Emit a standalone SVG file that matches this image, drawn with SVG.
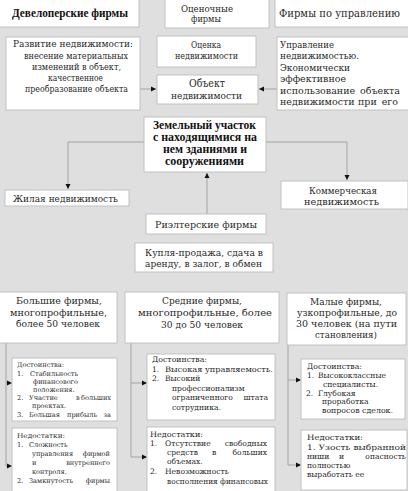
<svg xmlns="http://www.w3.org/2000/svg" width="408" height="491" viewBox="0 0 408 491">
<defs>
<style>
.bx{fill:#fff;stroke:#c2c2c2;stroke-width:1}
.t{font-family:"DejaVu Serif","Liberation Serif",serif;fill:#2a2a2a}
.b{font-family:"Liberation Serif","DejaVu Serif",serif;font-weight:bold;fill:#111}
.m{font-size:9.5px}
.h{font-size:10px}
.s{font-size:7.6px}
.xs{font-size:6.6px}
.c{fill:none;stroke:#a3a3a3;stroke-width:1}
.mid{text-anchor:middle}
</style>
<marker id="ar" markerUnits="userSpaceOnUse" markerWidth="6" markerHeight="6" refX="5" refY="3" orient="auto">
<path d="M0,0.5 L5,3 L0,5.5 z" fill="#111"/>
</marker>
</defs>
<rect x="0" y="0" width="408" height="491" fill="#dfdfdf"/>

<g id="connectors">
<path class="c" d="M140,89 H156" marker-end="url(#ar)"/>
<path class="c" d="M277,89 H259" marker-end="url(#ar)"/>
<path class="c" d="M144,142 H68 V189" marker-end="url(#ar)"/>
<path class="c" d="M266,142 H347 V180" marker-end="url(#ar)"/>
<path class="c" d="M207,214 V173" marker-end="url(#ar)"/>
<path class="c" d="M6,343 V466 H12" marker-end="url(#ar)"/>
<path class="c" d="M6,383 H12" marker-end="url(#ar)"/>
<path class="c" d="M131,343 V457 H147" marker-end="url(#ar)"/>
<path class="c" d="M131,383 H147" marker-end="url(#ar)"/>
<path class="c" d="M288,345 V465 H301" marker-end="url(#ar)"/>
<path class="c" d="M288,380 H301" marker-end="url(#ar)"/>
</g>

<g id="developers">
<rect class="bx" x="-1" y="-1" width="140" height="28"/>
<text class="b mid" x="70" y="16.5" font-size="11.5" textLength="116" lengthAdjust="spacingAndGlyphs">Девелоперские фирмы</text>
</g>
<g id="appraisers">
<rect class="bx" x="165" y="-1" width="104" height="29"/>
<text class="t m mid" x="207" y="11.5" textLength="52" lengthAdjust="spacingAndGlyphs">Оценочные</text>
<text class="t m mid" x="206" y="22" textLength="30" lengthAdjust="spacingAndGlyphs">фирмы</text>
</g>
<g id="managers">
<rect class="bx" x="275" y="-1" width="134" height="28"/>
<text class="t mid" x="339.5" y="16.5" font-size="10.5" textLength="121" lengthAdjust="spacingAndGlyphs">Фирмы по управлению</text>
</g>

<g id="development">
<rect class="bx" x="6" y="37" width="134" height="73"/>
<text class="t mid" font-size="9" x="73" y="47" textLength="120" lengthAdjust="spacingAndGlyphs">Развитие недвижимости:</text>
<text class="t mid" font-size="9" x="76" y="58.5" textLength="104" lengthAdjust="spacingAndGlyphs">внесение материальных</text>
<text class="t mid" font-size="9" x="76.5" y="69.5" textLength="89" lengthAdjust="spacingAndGlyphs">изменений в объект,</text>
<text class="t mid" font-size="9" x="75.5" y="80.5" textLength="55" lengthAdjust="spacingAndGlyphs">качественное</text>
<text class="t mid" font-size="9" x="76.5" y="91.5" textLength="103" lengthAdjust="spacingAndGlyphs">преобразование объекта</text>
</g>
<g id="appraisal">
<rect class="bx" x="157" y="36" width="99" height="31"/>
<text class="t mid" font-size="9" x="206" y="47.5" textLength="30" lengthAdjust="spacingAndGlyphs">Оценка</text>
<text class="t mid" font-size="9" x="206.5" y="59" textLength="63" lengthAdjust="spacingAndGlyphs">недвижимости</text>
</g>
<g id="object">
<rect class="bx" x="157" y="75" width="101" height="29"/>
<text class="t mid" font-size="11" x="207" y="87" textLength="36" lengthAdjust="spacingAndGlyphs">Объект</text>
<text class="t mid" font-size="10" x="206.5" y="98.5" textLength="71" lengthAdjust="spacingAndGlyphs">недвижимости</text>
</g>
<g id="management">
<rect class="bx" x="277" y="37" width="132" height="73"/>
<text class="t" font-size="9.5" x="280" y="47.5" textLength="54" lengthAdjust="spacingAndGlyphs">Управление</text>
<text class="t" font-size="9.5" x="280" y="59" textLength="79" lengthAdjust="spacingAndGlyphs">недвижимостью.</text>
<text class="t" font-size="9.5" x="280" y="70.5" textLength="70" lengthAdjust="spacingAndGlyphs">Экономически</text>
<text class="t" font-size="9.5" x="280" y="82" textLength="66" lengthAdjust="spacingAndGlyphs">эффективное</text>
<text class="t" font-size="9.5" y="93.5"><tspan x="280">использование</tspan><tspan x="400" text-anchor="end">объекта</tspan></text>
<text class="t" font-size="9.5" y="105"><tspan x="280">недвижимости</tspan><tspan x="358">при</tspan><tspan x="398" text-anchor="end">его</tspan></text>
</g>

<g id="land">
<rect class="bx" x="144" y="117" width="122" height="55"/>
<text class="b mid" font-size="11.5" x="204.5" y="129" textLength="103" lengthAdjust="spacingAndGlyphs">Земельный участок</text>
<text class="b mid" font-size="11.5" x="205" y="141" textLength="104" lengthAdjust="spacingAndGlyphs">с находящимися на</text>
<text class="b mid" font-size="11.5" x="205" y="153" textLength="84" lengthAdjust="spacingAndGlyphs">нем зданиями и</text>
<text class="b mid" font-size="11.5" x="204.5" y="165" textLength="79" lengthAdjust="spacingAndGlyphs">сооружениями</text>
</g>
<g id="residential">
<rect class="bx" x="5" y="190" width="124" height="16"/>
<text class="t m mid" x="65.5" y="201.5" textLength="105" lengthAdjust="spacingAndGlyphs">Жилая недвижимость</text>
</g>
<g id="commercial">
<rect class="bx" x="281" y="181" width="127" height="28"/>
<text class="t m mid" x="343" y="194" textLength="68" lengthAdjust="spacingAndGlyphs">Коммерческая</text>
<text class="t m mid" x="341.5" y="204.5" textLength="75" lengthAdjust="spacingAndGlyphs">недвижимость</text>
</g>
<g id="realtors">
<rect class="bx" x="146" y="214" width="120" height="20"/>
<text class="t m mid" x="206" y="227.5" textLength="102" lengthAdjust="spacingAndGlyphs">Риэлтерские фирмы</text>
</g>
<g id="deals">
<rect class="bx" x="135" y="243" width="138" height="29"/>
<text class="t m mid" x="204" y="256" textLength="118" lengthAdjust="spacingAndGlyphs">Купля-продажа, сдача в</text>
<text class="t m mid" x="203.5" y="266.5" textLength="117" lengthAdjust="spacingAndGlyphs">аренду, в залог, в обмен</text>
</g>

<g id="large">
<rect class="bx" x="-1" y="292" width="118" height="51"/>
<text class="t h mid" x="59" y="304" textLength="86" lengthAdjust="spacingAndGlyphs">Большие фирмы,</text>
<text class="t h mid" x="58.5" y="315.5" textLength="97" lengthAdjust="spacingAndGlyphs">многопрофильные,</text>
<text class="t h mid" x="58" y="327" textLength="84" lengthAdjust="spacingAndGlyphs">более 50 человек</text>
</g>
<g id="large-pros">
<rect class="bx" x="12" y="358" width="105" height="63"/>
<text class="t xs" x="17" y="367" textLength="47" lengthAdjust="spacingAndGlyphs">Достоинства:</text>
<text class="t xs" y="375.5"><tspan x="17">1.</tspan><tspan x="30">Стабильность</tspan></text>
<text class="t xs" x="33" y="383.5">финансового</text>
<text class="t xs" x="33" y="391.5">положения.</text>
<text class="t xs" y="399.5"><tspan x="17">2.</tspan><tspan x="29">Участие</tspan><tspan x="76">в</tspan><tspan x="111" text-anchor="end">больших</tspan></text>
<text class="t xs" x="32" y="408">проектах.</text>
<text class="t xs" y="416.5"><tspan x="17">3.</tspan><tspan x="29">Большая</tspan><tspan x="67">прибыль</tspan><tspan x="111" text-anchor="end">за</tspan></text>
</g>
<g id="large-cons">
<rect class="bx" x="12" y="428" width="105" height="68"/>
<text class="t xs" x="17" y="437.5" textLength="48" lengthAdjust="spacingAndGlyphs">Недостатки:</text>
<text class="t xs" y="446.5"><tspan x="17">1.</tspan><tspan x="29">Сложность</tspan></text>
<text class="t xs" y="455.5"><tspan x="32">управления</tspan><tspan x="110" text-anchor="end">фирмой</tspan></text>
<text class="t xs" y="464.5"><tspan x="32">и</tspan><tspan x="110" text-anchor="end">внутреннего</tspan></text>
<text class="t xs" x="32" y="473.5">контроля.</text>
<text class="t xs" y="482.5"><tspan x="17">2.</tspan><tspan x="29">Замкнутость</tspan><tspan x="110" text-anchor="end">фирмы</tspan></text>
</g>

<g id="medium">
<rect class="bx" x="125" y="292" width="154" height="51"/>
<text class="t h mid" x="202" y="304" textLength="80" lengthAdjust="spacingAndGlyphs">Средние фирмы,</text>
<text class="t h mid" x="205" y="316" textLength="134" lengthAdjust="spacingAndGlyphs">многопрофильные, более</text>
<text class="t h mid" x="202" y="327.5" textLength="82" lengthAdjust="spacingAndGlyphs">30 до 50 человек</text>
</g>
<g id="medium-pros">
<rect class="bx" x="147" y="354" width="128" height="66"/>
<text class="t s" x="152" y="362" textLength="55" lengthAdjust="spacingAndGlyphs">Достоинства:</text>
<text class="t s" y="371.5"><tspan x="152">1.</tspan><tspan x="165" textLength="108" lengthAdjust="spacingAndGlyphs">Высокая управляемость.</tspan></text>
<text class="t s" y="381"><tspan x="152">2.</tspan><tspan x="165">Высокий</tspan></text>
<text class="t s" x="172" y="390.5">профессионализм</text>
<text class="t s" y="400"><tspan x="172">ограниченного</tspan><tspan x="268" text-anchor="end">штата</tspan></text>
<text class="t s" x="172" y="409.5">сотрудника.</text>
</g>
<g id="medium-cons">
<rect class="bx" x="147" y="427" width="128" height="69"/>
<text class="t s" x="150" y="437" textLength="53" lengthAdjust="spacingAndGlyphs">Недостатки:</text>
<text class="t s" y="446"><tspan x="150">1.</tspan><tspan x="165">Отсутствие</tspan><tspan x="267" text-anchor="end">свободных</tspan></text>
<text class="t s" y="455"><tspan x="167">средств</tspan><tspan x="212">в</tspan><tspan x="267" text-anchor="end">больших</tspan></text>
<text class="t s" x="167" y="464">объемах.</text>
<text class="t s" y="474"><tspan x="150">2.</tspan><tspan x="165">Невозможность</tspan></text>
<text class="t s" x="167" y="483.5" textLength="101" lengthAdjust="spacingAndGlyphs">восполнения финансовых</text>
</g>

<g id="small">
<rect class="bx" x="287" y="293" width="119" height="52"/>
<text class="t h mid" x="346" y="305" textLength="72" lengthAdjust="spacingAndGlyphs">Малые фирмы,</text>
<text class="t h mid" x="347" y="316" textLength="100" lengthAdjust="spacingAndGlyphs">узкопрофильные, до</text>
<text class="t h mid" x="346.5" y="327" textLength="101" lengthAdjust="spacingAndGlyphs">30 человек (на пути</text>
<text class="t h mid" x="346" y="338" textLength="62" lengthAdjust="spacingAndGlyphs">становления)</text>
</g>
<g id="small-pros">
<rect class="bx" x="301" y="359" width="104" height="60"/>
<text class="t s" x="307" y="369" textLength="55" lengthAdjust="spacingAndGlyphs">Достоинства:</text>
<text class="t s" y="378"><tspan x="307">1.</tspan><tspan x="318">Высококлассные</tspan></text>
<text class="t s" x="323" y="387">специалисты.</text>
<text class="t s" y="395.5"><tspan x="306">2.</tspan><tspan x="318">Глубокая</tspan></text>
<text class="t s" x="322" y="404">проработка</text>
<text class="t s" x="322" y="412.5" textLength="71" lengthAdjust="spacingAndGlyphs">вопросов сделок.</text>
</g>
<g id="small-cons">
<rect class="bx" x="301" y="430" width="106" height="60"/>
<text class="t s" x="307" y="440" textLength="56" lengthAdjust="spacingAndGlyphs">Недостатки:</text>
<text class="t s" x="307" y="449.5" textLength="99" lengthAdjust="spacingAndGlyphs">1. Узость выбранной</text>
<text class="t s" y="458.5"><tspan x="307">ниши</tspan><tspan x="339">и</tspan><tspan x="406" text-anchor="end">опасность</tspan></text>
<text class="t s" x="307" y="468">полностью</text>
<text class="t s" x="307" y="477">выработать ее</text>
</g>
</svg>
